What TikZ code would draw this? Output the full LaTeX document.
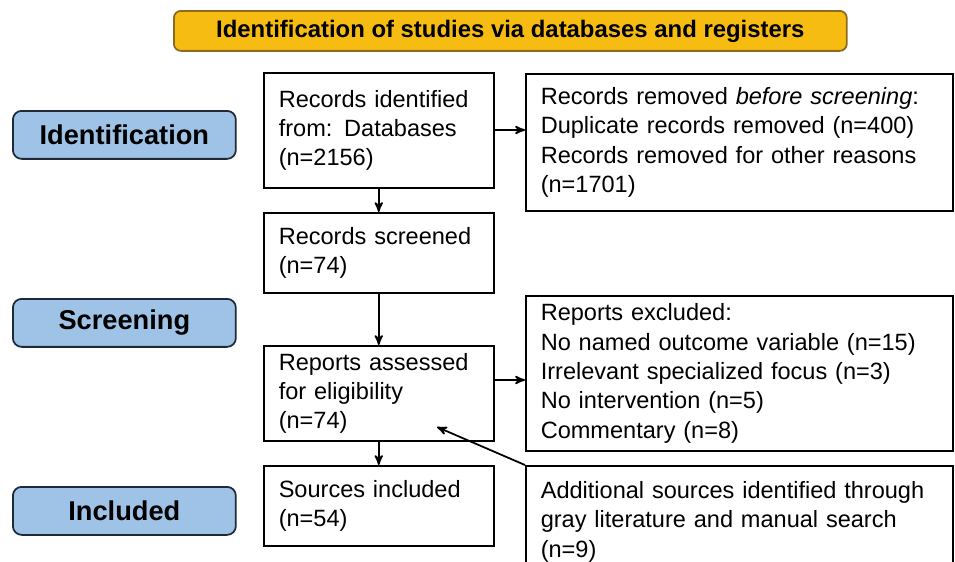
\documentclass[tikz,border=0pt]{standalone}
\usepackage{fontspec}
\setmainfont{Liberation Sans}
\usetikzlibrary{arrows}
\definecolor{bannerfill}{HTML}{F7BC12}
\definecolor{bannerline}{HTML}{8C6A1E}
\definecolor{phasefill}{HTML}{9FC3E7}
\definecolor{phaseline}{HTML}{1E2A38}

\begin{document}
\begin{tikzpicture}[>=stealth', x=0.02cm, y=-0.02cm]
    \tikzstyle{BannerStyle}=[draw         = bannerline,
                             fill         = bannerfill,
                             rounded corners = 4pt,
                             line width   = 1pt,
                             minimum width  = 13.46cm,
                             minimum height = 0.8cm,
                             font         = \bfseries\fontsize{13.6}{15}\selectfont,
                             anchor       = north west]
    \tikzstyle{PhaseStyle}=[draw          = phaseline,
                            fill          = phasefill,
                            rounded corners = 5pt,
                            line width    = 1pt,
                            minimum width  = 4.46cm,
                            minimum height = 0.96cm,
                            font          = \bfseries\fontsize{15.5}{18}\selectfont,
                            anchor        = north west]
    \tikzstyle{BoxStyle}=[draw            = black,
                          line width      = 0.9pt,
                          align           = left,
                          inner xsep      = 0.3cm,
                          font            = \fontsize{13.4}{16.7}\selectfont,
                          anchor          = north west]
    \tikzstyle{EdgeStyle}=[->,
                           line width     = 1pt]
    \useasboundingbox (0,0) rectangle (955,561);
    % banner
    \node[BannerStyle] (banner) at (173,10)
        {Identification of studies via databases and registers};
    % phases
    \node[PhaseStyle] (ident)  at (12,110) {Identification};
    \node[PhaseStyle] (screen) at (12,298) {Screening};
    \node[PhaseStyle] (incl)   at (12,486) {Included};
    % main column
    \node[BoxStyle, text width=4cm, minimum height=2.3cm] (identified) at (263,72)
        {Records identified\\from: Databases\\(n=2156)};
    \node[BoxStyle, text width=4cm, minimum height=1.6cm] (screened) at (263,212)
        {Records screened\\(n=74)};
    \node[BoxStyle, text width=4cm, minimum height=1.9cm] (assessed) at (263,345)
        {Reports assessed\\for eligibility\\(n=74)};
    \node[BoxStyle, text width=4cm, minimum height=1.6cm] (included) at (263,465)
        {Sources included\\(n=54)};
    % side column
    \node[BoxStyle, text width=7.94cm, minimum height=2.74cm] (removed) at (525,73)
        {Records removed \textit{before screening}:\\Duplicate records removed (n=400)\\Records removed for other reasons\\(n=1701)};
    \node[BoxStyle, text width=7.94cm, minimum height=3.1cm] (excluded) at (525,295)
        {Reports excluded:\\No named outcome variable (n=15)\\Irrelevant specialized focus (n=3)\\No intervention (n=5)\\Commentary (n=8)};
    \node[BoxStyle, text width=7.94cm, minimum height=2.24cm] (additional) at (525,465)
        {Additional sources identified through\\gray literature and manual search\\(n=9)};
    \coordinate (target) at (437,427);
    % edges
    \draw[EdgeStyle] (identified) -- (screened);
    \draw[EdgeStyle] (screened) -- (assessed);
    \draw[EdgeStyle] (assessed) -- (included);
    \draw[EdgeStyle] (identified.east |- 0,130) -- (removed.west |- 0,130);
    \draw[EdgeStyle] (assessed.east |- 0,380) -- (excluded.west |- 0,380);
    \draw[EdgeStyle] (additional.north west) -- (target);
\end{tikzpicture}
\end{document}
